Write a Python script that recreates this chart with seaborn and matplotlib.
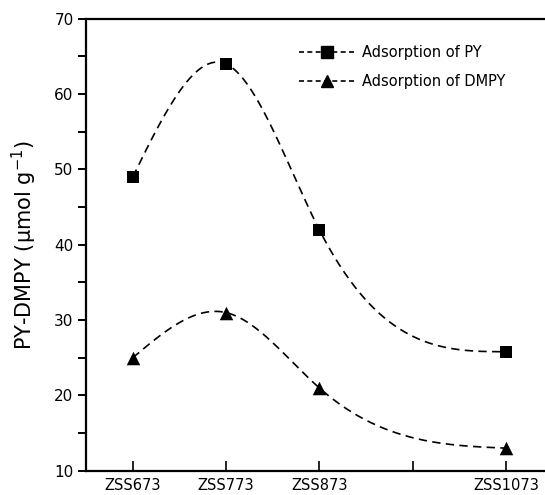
import numpy as np
import pandas as pd
import matplotlib
matplotlib.use('Agg')
import matplotlib.pyplot as plt
import seaborn as sns
from matplotlib.lines import Line2D
from matplotlib.ticker import MultipleLocator

# calcination temperature (K) of the samples
temps = [673, 773, 873, 1073]
sample_labels = ['ZSS673', 'ZSS773', 'ZSS873', 'ZSS1073']
py_uptake = [49.0, 64.0, 42.0, 25.8]
dmpy_uptake = [25.0, 31.0, 21.0, 13.0]


def natural_spline(x, y, n=300):
    # natural cubic spline through the measured points, just for the smooth dashed line
    x = np.asarray(x, float)
    y = np.asarray(y, float)
    m = len(x)
    h = np.diff(x)
    A = np.zeros((m, m))
    b = np.zeros(m)
    A[0, 0] = A[-1, -1] = 1.0
    for i in range(1, m - 1):
        A[i, i - 1] = h[i - 1]
        A[i, i] = 2 * (h[i - 1] + h[i])
        A[i, i + 1] = h[i]
        b[i] = 6 * ((y[i + 1] - y[i]) / h[i] - (y[i] - y[i - 1]) / h[i - 1])
    M = np.linalg.solve(A, b)

    xs = np.linspace(x[0], x[-1], n)
    k = np.clip(np.searchsorted(x, xs) - 1, 0, m - 2)
    a = x[k + 1] - xs
    c = xs - x[k]
    hk = h[k]
    ys = (M[k] * a**3 + M[k + 1] * c**3) / (6 * hk) \
        + (y[k] / hk - M[k] * hk / 6) * a + (y[k + 1] / hk - M[k + 1] * hk / 6) * c
    return xs, ys


sns.set_style('white')
plt.rcParams['font.family'] = ['DejaVu Sans']
plt.rcParams.update({'text.color': 'black', 'axes.labelcolor': 'black',
                     'xtick.color': 'black', 'ytick.color': 'black'})

fig = plt.figure(figsize=(5.45, 4.95), dpi=100)
ax = fig.add_axes([0.158, 0.049, 0.842, 0.913])

dash = (0, (5, 3.2))
points = pd.DataFrame({'T': temps, 'PY': py_uptake, 'DMPY': dmpy_uptake})

for col, mk in [('PY', 's'), ('DMPY', '^')]:
    cx, cy = natural_spline(points['T'], points[col])
    sns.lineplot(x=cx, y=cy, ax=ax, color='black', lw=1.2, linestyle=dash)
    sns.scatterplot(data=points, x='T', y=col, ax=ax, marker=mk, s=80 if mk == 's' else 95,
                    color='black', edgecolor='black', linewidth=0, zorder=3)

ax.set_xlim(623, 1115)
ax.set_ylim(10, 70)
ax.set_xticks([673, 773, 873, 973, 1073])
ax.set_xticklabels(['ZSS673', 'ZSS773', 'ZSS873', '', 'ZSS1073'], fontsize=10.5)
ax.yaxis.set_major_locator(MultipleLocator(10))
ax.yaxis.set_minor_locator(MultipleLocator(5))
ax.tick_params(axis='y', which='both', direction='out', length=6, width=1.4, labelsize=11,
               left=True, pad=3)
ax.tick_params(axis='x', direction='in', length=7, width=1.2, bottom=True, pad=5)
ax.set_xlabel('')
ax.set_ylabel('PY-DMPY (μmol g$^{-1}$)', fontsize=15, labelpad=11)

for side in ['left', 'bottom', 'top']:
    ax.spines[side].set_visible(True)
    ax.spines[side].set_linewidth(1.6)
    ax.spines[side].set_color('black')
ax.spines['right'].set_visible(False)

handles = [Line2D([], [], color='black', lw=1.2, linestyle=(0, (3, 2)), marker='s', markersize=8),
           Line2D([], [], color='black', lw=1.2, linestyle=(0, (3, 2)), marker='^', markersize=8)]
ax.legend(handles, ['Adsorption of PY', 'Adsorption of DMPY'], loc='upper left',
          bbox_to_anchor=(0.435, 0.97), frameon=False, fontsize=10.5, handlelength=3.8,
          handletextpad=0.5, labelspacing=0.9, numpoints=1)

fig.savefig('out.png', dpi=100)
